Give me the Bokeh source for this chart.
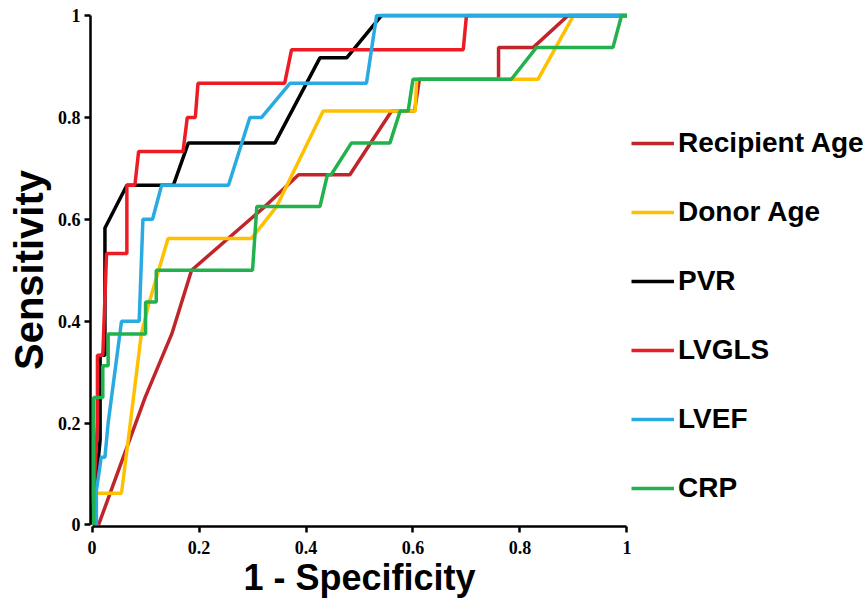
from bokeh.plotting import figure
from bokeh.models import Range1d, Legend, LegendItem, FixedTicker
from bokeh.embed import file_html
from bokeh.resources import INLINE

# ROC curves: (1 - specificity, sensitivity)
recip_x = [0.012, 0.099, 0.149, 0.186, 0.323, 0.333, 0.386, 0.482, 0.56, 0.603, 0.612, 0.76, 0.76, 0.825, 0.89, 1.0]
recip_y = [0.0, 0.25, 0.375, 0.5, 0.625, 0.635, 0.6875, 0.6875, 0.8125, 0.8125, 0.875, 0.875, 0.9375, 0.9375, 1.0, 1.0]

donor_x = [0.006, 0.006, 0.055, 0.07, 0.092, 0.107, 0.142, 0.298, 0.345, 0.432, 0.604, 0.607, 0.834, 0.9, 1.0]
donor_y = [0.0, 0.0625, 0.0625, 0.1875, 0.375, 0.4375, 0.5625, 0.5625, 0.625, 0.8125, 0.8125, 0.875, 0.875, 1.0, 1.0]

pvr_x = [0.0, 0.015, 0.015, 0.024, 0.024, 0.065, 0.152, 0.18, 0.342, 0.426, 0.476, 0.541, 1.0]
pvr_y = [0.0, 0.167, 0.333, 0.333, 0.583, 0.667, 0.667, 0.75, 0.75, 0.917, 0.917, 1.0, 1.0]

lvgls_x = [0.0, 0.01, 0.01, 0.02, 0.027, 0.065, 0.065, 0.08, 0.087, 0.17, 0.178, 0.193, 0.198, 0.36, 0.373, 0.694, 0.70, 1.0]
lvgls_y = [0.0, 0.2, 0.333, 0.333, 0.533, 0.533, 0.667, 0.667, 0.733, 0.733, 0.8, 0.8, 0.867, 0.867, 0.933, 0.933, 1.0, 1.0]

lvef_x = [0.008, 0.008, 0.017, 0.024, 0.03, 0.055, 0.088, 0.095, 0.113, 0.13, 0.255, 0.295, 0.317, 0.37, 0.513, 0.532, 1.0]
lvef_y = [0.0, 0.067, 0.133, 0.133, 0.2, 0.4, 0.4, 0.6, 0.6, 0.667, 0.667, 0.8, 0.8, 0.867, 0.867, 1.0, 1.0]

crp_x = [0.003, 0.003, 0.02, 0.02, 0.03, 0.03, 0.1, 0.1, 0.12, 0.12, 0.3, 0.308, 0.426, 0.44, 0.447, 0.485, 0.557, 0.576, 0.591, 0.60, 0.784, 0.831, 0.974, 0.99, 1.0]
crp_y = [0.0, 0.25, 0.25, 0.3125, 0.3125, 0.375, 0.375, 0.4375, 0.4375, 0.5, 0.5, 0.625, 0.625, 0.6875, 0.6875, 0.75, 0.75, 0.8125, 0.8125, 0.875, 0.875, 0.9375, 0.9375, 1.0, 1.0]

names = ["Recipient Age", "Donor Age", "PVR", "LVGLS", "LVEF", "CRP"]
colors = ["#C0252B", "#FFC000", "#000000", "#ED1C24", "#29ABE2", "#22B14C"]
series = [(recip_x, recip_y), (donor_x, donor_y), (pvr_x, pvr_y),
          (lvgls_x, lvgls_y), (lvef_x, lvef_y), (crp_x, crp_y)]
ticks = [0, 0.2, 0.4, 0.6, 0.8, 1]
tick_labels = ["0", "0.2", "0.4", "0.6", "0.8", "1"]

p = figure(frame_width=538, frame_height=513,
           x_range=Range1d(-0.003, 1.003), y_range=Range1d(-0.003, 1.004),
           output_backend="svg", toolbar_location=None,
           min_border_left=90, min_border_right=0,
           min_border_top=13, min_border_bottom=0)
p.outline_line_color = None
p.xgrid.visible = False
p.ygrid.visible = False
p.background_fill_color = "white"

items = []
for name, col, (xs, ys) in zip(names, colors, series):
    r = p.line(xs, ys, line_color=col, line_width=3.5)
    items.append(LegendItem(label=name, renderers=[r]))

for ax in (p.xaxis[0], p.yaxis[0]):
    ax.ticker = FixedTicker(ticks=ticks)
    ax.major_label_overrides = {t: l for t, l in zip(ticks, tick_labels)}
    ax.minor_tick_line_color = None
    ax.axis_line_color = "black"
    ax.axis_line_width = 2.5
    ax.major_tick_line_color = "black"
    ax.major_tick_line_width = 2.5
    ax.major_tick_out = 6
    ax.major_tick_in = 0
    ax.bounds = (0, 1)
    ax.major_label_text_font = "Liberation Serif"
    ax.major_label_text_font_style = "bold"
    ax.major_label_text_font_size = "18px"
    ax.major_label_text_color = "black"
    ax.axis_label_text_font = "Liberation Sans"
    ax.axis_label_text_font_style = "bold"
    ax.axis_label_text_color = "black"

p.xaxis[0].axis_label = "1 - Specificity"
p.yaxis[0].axis_label = "Sensitivity"
p.xaxis[0].axis_label_text_font_size = "36px"
p.yaxis[0].axis_label_text_font_size = "40px"
p.xaxis[0].major_label_standoff = 8
p.xaxis[0].axis_label_standoff = 0
p.yaxis[0].major_label_standoff = 4
p.yaxis[0].axis_label_standoff = 4

legend = Legend(items=items, location=(3, 22),
                label_text_font="Liberation Sans", label_text_font_style="bold",
                label_text_font_size="28px", label_text_color="black",
                glyph_width=43, glyph_height=30, label_height=30,
                label_standoff=4, spacing=37, padding=0, margin=0,
                border_line_color=None, background_fill_alpha=0)
p.add_layout(legend, "right")

open("out.html", "w").write(file_html(p, INLINE))
